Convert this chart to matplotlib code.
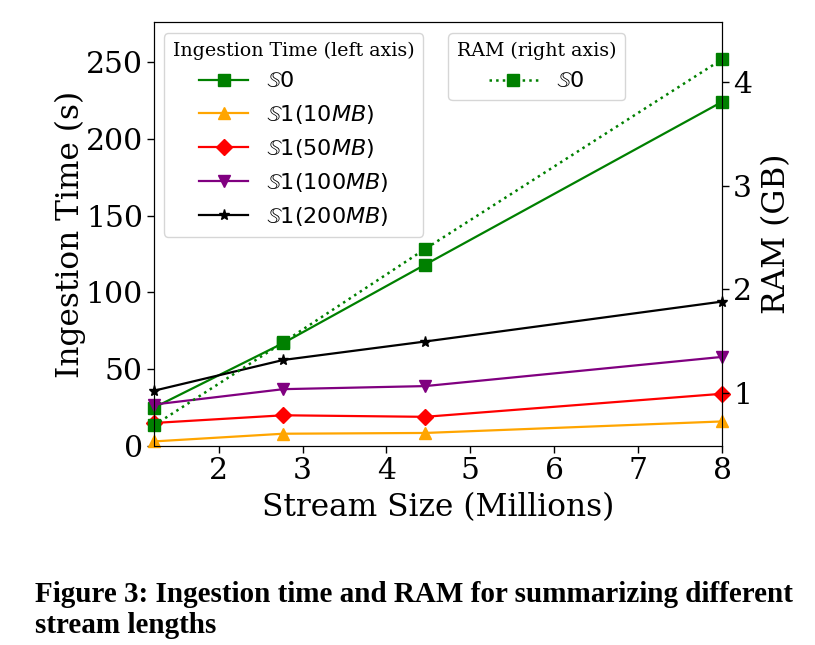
import matplotlib
matplotlib.use("Agg")
import matplotlib.pyplot as plt

# stream sizes (millions of tuples)
stream_size = [1.23, 2.77, 4.46, 8.0]

# ingestion time in seconds (left axis)
time_s0 = [25, 67, 118, 224]
time_s1_10mb = [3, 8, 8.5, 16]
time_s1_50mb = [15, 20, 19, 34]
time_s1_100mb = [27, 37, 39, 58]
time_s1_200mb = [36, 56, 68, 94]

# RAM in GB (right axis)
ram_s0 = [0.69, 1.49, 2.39, 4.22]

labels = [r"$\mathbb{S}0$", r"$\mathbb{S}1(10MB)$", r"$\mathbb{S}1(50MB)$",
          r"$\mathbb{S}1(100MB)$", r"$\mathbb{S}1(200MB)$"]

caption = ["Figure 3: Ingestion time and RAM for summarizing different",
           "stream lengths"]

fig = plt.figure(figsize=(8.15, 6.45), dpi=100)
ax = fig.add_axes([0.189, 0.3085, 0.697, 0.6575])
ax2 = ax.twinx()

series = [
    (time_s0, "green", "s"),
    (time_s1_10mb, "orange", "^"),
    (time_s1_50mb, "red", "D"),
    (time_s1_100mb, "purple", "v"),
    (time_s1_200mb, "black", "*"),
]
handles = []
for (vals, col, mk), lab in zip(series, labels):
    h, = ax.plot(stream_size, vals, color=col, marker=mk, markersize=8,
                 linewidth=1.6, label=lab, clip_on=False, zorder=3)
    handles.append(h)

h_ram, = ax2.plot(stream_size, ram_s0, color="green", marker="s", markersize=8,
                  linewidth=1.8, linestyle=":", label=labels[0], clip_on=False)

serif = "DejaVu Serif"
ax.set_xlim(1.23, 8.0)
ax.set_ylim(0, 276)
ax2.set_ylim(0.49, 4.58)
ax.set_yticks([0, 50, 100, 150, 200, 250])
ax2.set_yticks([1, 2, 3, 4])
ax.set_xticks([2, 3, 4, 5, 6, 7, 8])

for a in (ax, ax2):
    for t in a.get_xticklabels() + a.get_yticklabels():
        t.set_fontfamily(serif)
        t.set_fontsize(21.5)
    a.tick_params(length=5, width=1, pad=3)

ax.set_xlabel("Stream Size (Millions)", fontsize=22.5, family=serif, labelpad=5)
ax.set_ylabel("Ingestion Time (s)", fontsize=22.5, family=serif, labelpad=0)
ax2.set_ylabel("RAM (GB)", fontsize=22.5, family=serif, labelpad=6)

# both legends live on the twin axes so they sit above all lines
leg1 = ax2.legend(handles=handles, loc="upper left", bbox_to_anchor=(0.0, 0.997),
                  fontsize=16, title="Ingestion Time (left axis)",
                  title_fontproperties={"family": serif, "size": 13.7},
                  handlelength=2.2, borderaxespad=0.45)
ax2.add_artist(leg1)
leg2 = ax2.legend(handles=[h_ram], loc="upper left", bbox_to_anchor=(0.5, 0.997),
                  fontsize=16, title="RAM (right axis)",
                  title_fontproperties={"family": serif, "size": 13.7},
                  handlelength=2.2, borderaxespad=0.45)

fig.text(0.043, 1 - 602 / 645, caption[0], fontsize=21, family="Liberation Serif",
         weight="bold", ha="left", va="baseline")
fig.text(0.043, 1 - 633 / 645, caption[1], fontsize=21, family="Liberation Serif",
         weight="bold", ha="left", va="baseline")

fig.savefig("out.png", dpi=100)
